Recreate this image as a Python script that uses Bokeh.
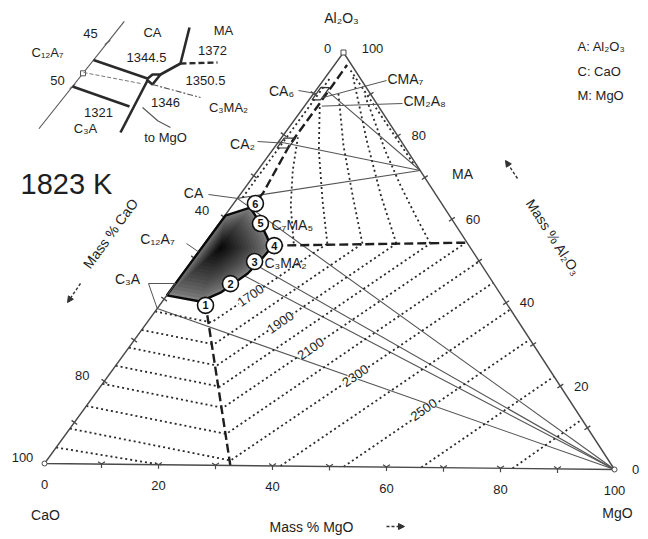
import numpy as np
from bokeh.plotting import figure
from bokeh.models import Range1d, ColumnDataSource, LabelSet, Arrow, NormalHead
from bokeh.core.properties import value
from bokeh.embed import file_html
from bokeh.resources import INLINE

FONT = "Liberation Sans"
INK = "#1e1e1e"
EDGE = "#4a4a4a"

# ---------------- data (all compositions in mass %) ----------------
axis_ticks = [10, 20, 30, 40, 50, 60, 70, 80, 90]
bottom_labels = [0, 20, 40, 60, 80, 100]      # Mass % MgO
right_labels = [0, 20, 40, 60, 80]            # Mass % Al2O3
left_labels = [100, 80, 40]                   # Mass % CaO

# compounds (MgO, Al2O3)
cmp_names = ["C3A", "C12A7", "CA", "CA2", "CA6", "MA", "C3MA2", "CMA7", "MgO"]
cmp_mgo = [0.0, 0.0, 0.0, 0.0, 0.0, 28.3, 9.8, 2.3, 100.0]
cmp_al = [37.7, 51.5, 64.5, 78.3, 91.6, 71.7, 49.5, 90.5, 0.0]
tie_from = ["MgO", "MgO", "MgO", "MgO", "MA", "MA", "MA"]
tie_to = ["C3A", "C12A7", "C3MA2", "CA", "CA", "CA2", "CMA7"]

# liquid region at 1823 K (shaded)
liq_mgo = [0.0, 6.6, 9.0, 11.3, 11.9, 12.1, 10.2, 7.2, 4.6, 3.4, 0.1]
liq_al = [40.9, 39.5, 41.7, 46.4, 49.6, 52.5, 55.1, 58.5, 61.1, 62.3, 60.3]
liq_core = (3.3, 52.6)

# invariant points 1-6
inv_no = ["1", "2", "3", "4", "5", "6"]
inv_mgo = [8.0, 9.6, 11.0, 12.4, 7.2, 3.8]
inv_al = [38.6, 43.9, 49.3, 53.2, 58.5, 63.3]

# primary-field boundaries (dashed)
bnd_cao_mgo_m = [7.6, 32.6]
bnd_cao_mgo_a = [39.3, 0.0]
bnd_mgo_ma_m = [12.4, 45.6]
bnd_mgo_ma_a = [53.2, 54.4]
bnd_ca_sp_m = [3.4, 3.8, 2.3, 2.3, 2.2]
bnd_ca_sp_a = [62.3, 65.8, 77.9, 87.9, 97.0]
# dotted boundaries near the Al2O3 corner
dot_left_m = [0.8, 0.9]
dot_left_a = [64.7, 93.9]
dot_right_m = [3.5, 26.7]
dot_right_a = [95.7, 72.9]
# peritectic boxes (MgO range, Al2O3 range)
box_ca2 = ([0.5, 2.5], [76.8, 79.2])
box_ca6 = ([0.5, 2.0], [88.5, 91.5])

# isotherms (deg C)
iso_temps = [1700, 1800, 1900, 2000, 2100, 2200, 2300, 2400, 2500, 2600, 2700]
cao_start_al = [37.0, 32.5, 28.2, 23.8, 19.4, 14.0, 8.5]          # on CaO-Al2O3 side
bnd_pt_mgo = [11.2, 14.4, 17.6, 20.8, 24.0, 27.9, 32.0]           # on CaO/MgO boundary
bnd_pt_al = [34.5, 29.2, 24.1, 19.0, 13.9, 7.6, 1.2]
base_start_mgo = [41.4, 52.5, 66.1, 82.1]                          # on CaO-MgO side
mgo_end_mgo = [21.4, 27.5, 33.4, 39.3, 45.3, 50.1, 55.2, 61.6, 68.8, 77.7, 88.0]
mgo_end_al = [53.8, 53.9, 54.0, 54.1, 54.2, 49.9, 44.8, 38.4, 31.2, 22.3, 12.0]
cao2400_m = [0.0, 20.4]
cao2400_a = [3.9, 0.0]
# spinel field isotherms
sp_mgo = {
    1600: [15.5, 10.2, 6.1, 2.8],
    1700: [21.4, 15.1, 8.1, 2.7],
    1800: [27.5, 19.7, 11.8, 4.3],
    1900: [33.4, 24.6, 15.2, 4.5],
    2000: [39.3, 33.2, 26.8, 19.7, 13.0, 8.6],
}
sp_al = {
    1600: [53.8, 62.9, 71.4, 79.4],
    1700: [53.8, 64.2, 76.3, 86.9],
    1800: [53.9, 65.5, 77.5, 90.1],
    1900: [54.0, 65.6, 78.8, 94.5],
    2000: [54.1, 60.8, 68.0, 76.4, 84.9, 90.4],
}
iso_lab_t = ["1700", "1900", "2100", "2300", "2500"]
iso_lab_mgo = [14.6, 23.2, 31.8, 43.0, 59.2]
iso_lab_al = [41.1, 34.7, 28.4, 22.0, 14.0]

# inset (CaO, MgO near C12A7)
in_edge_c = [54.8, 42.6]
in_edge_m = [0.0, 0.0]
in_ticks_c = [45.0, 50.0]
in_c12a7 = (48.5, 0.0)
in_thick = [
    ([47.0, 46.95], [0.0, 9.41]),
    ([50.0, 50.0], [0.0, 10.0]),
    ([52.59, 47.13], [11.6, 9.63]),
    ([47.07, 46.44, 46.19, 47.33, 47.07], [9.39, 9.66, 10.76, 10.75, 9.39]),
    ([46.19, 44.59, 41.11], [10.76, 12.3, 9.61]),
]
in_dashed_thick = ([44.59, 43.35], [12.3, 17.27])
in_thin = [([49.68, 50.4, 50.59], [11.89, 15.5, 17.91])]
in_dashdot = ([47.33, 46.99], [10.75, 18.76])
in_thin_dashed = ([48.41, 47.61], [0.0, 9.0])

# ---------------- geometry helpers (layout) ----------------
VC = (44.0, 463.0)
VM = (614.0, 469.0)
VA = (343.0, 52.0)


def tern(mgo, al):
    mgo, al = np.broadcast_arrays(np.atleast_1d(np.asarray(mgo, float)),
                                  np.atleast_1d(np.asarray(al, float)))
    cao = 100.0 - mgo - al
    x = (cao * VC[0] + mgo * VM[0] + al * VA[0]) / 100.0
    y = (cao * VC[1] + mgo * VM[1] + al * VA[1]) / 100.0
    return x.tolist(), (-y).tolist()


def inset(cao, mgo):
    cao, mgo = np.broadcast_arrays(np.atleast_1d(np.asarray(cao, float)),
                                   np.atleast_1d(np.asarray(mgo, float)))
    a = 50.0 - cao
    x = 72.0 + a * 7.0 + mgo * 5.7
    y = 86.0 - a * 8.8 + mgo * 2.0
    return x.tolist(), (-y).tolist()


def cmp(name):
    i = cmp_names.index(name)
    return cmp_mgo[i], cmp_al[i]


p = figure(width=644, height=535, x_range=Range1d(0, 644), y_range=Range1d(-535, 0),
           x_axis_type=None, y_axis_type=None, output_backend="svg",
           toolbar_location=None, min_border=0, outline_line_color=None,
           background_fill_color="white", border_fill_color="white")
p.grid.visible = False


def put(items, size, align="center", baseline="middle", angle=0.0, style="normal", color=INK):
    p.text(x=[i[0] for i in items], y=[-i[1] for i in items], text=[i[2] for i in items],
           text_font=value(FONT), text_font_size=value(f"{size}px"), text_color=color,
           text_align=align, text_baseline=baseline, angle=angle, text_font_style=style)


DOT = dict(line_color="#2a2a2a", line_width=1.8, line_dash="2 3")
DASH = dict(line_color="#1e1e1e", line_width=2.4, line_dash="9 4")

# ---------- tie lines ----------
for a, b in zip(tie_from, tie_to):
    m1, a1 = cmp(a)
    m2, a2 = cmp(b)
    xs, ys = tern([m1, m2], [a1, a2])
    p.line(xs, ys, line_color="#555555", line_width=1.1)

# ---------- isotherms ----------
for i, T in enumerate(iso_temps):
    if i < 7:
        mm = [0.0, bnd_pt_mgo[i], mgo_end_mgo[i]]
        aa = [cao_start_al[i], bnd_pt_al[i], mgo_end_al[i]]
    else:
        mm = [base_start_mgo[i - 7], mgo_end_mgo[i]]
        aa = [0.0, mgo_end_al[i]]
    xs, ys = tern(mm, aa)
    p.line(xs, ys, **DOT)
xs, ys = tern(cao2400_m, cao2400_a)
p.line(xs, ys, **DOT)
for T in sp_mgo:
    xs, ys = tern(sp_mgo[T], sp_al[T])
    p.line(xs, ys, **DOT)
for mm, aa in [(dot_left_m, dot_left_a), (dot_right_m, dot_right_a)]:
    xs, ys = tern(mm, aa)
    p.line(xs, ys, **DOT)

# ---------- boundaries ----------
for mm, aa in [(bnd_cao_mgo_m, bnd_cao_mgo_a), (bnd_mgo_ma_m, bnd_mgo_ma_a), (bnd_ca_sp_m, bnd_ca_sp_a)]:
    xs, ys = tern(mm, aa)
    p.line(xs, ys, **DASH)
for (mr, ar) in [box_ca2, box_ca6]:
    xs, ys = tern([mr[0], mr[1], mr[1], mr[0], mr[0]], [ar[0], ar[0], ar[1], ar[1], ar[0]])
    p.line(xs, ys, line_color="#333333", line_width=1.2)

# ---------- triangle edges & ticks ----------
xs, ys = tern([0, 100, 0, 0], [0, 0, 100, 0])
p.line(xs, ys, line_color=EDGE, line_width=1.4)
tx, ty = tern(axis_ticks, 0)
p.scatter(tx, ty, marker="y", size=8, line_color=EDGE, line_width=1.2)
tx, ty = tern(0, axis_ticks)
p.scatter(tx, ty, marker="dash", size=7, angle=-0.63, line_color=EDGE, line_width=1.4)
tx, ty = tern([100 - t for t in axis_ticks], axis_ticks)
p.scatter(tx, ty, marker="dash", size=7, angle=0.58, line_color=EDGE, line_width=1.4)
vx, vy = tern([0, 100], [0, 0])
p.scatter(vx, vy, marker="circle", size=5, fill_color="white", line_color=EDGE)
ax_, ay_ = tern(0, 100)
p.scatter(ax_, ay_, marker="square", size=5, fill_color="white", line_color=EDGE)

# ---------- shaded liquid region ----------
cm, ca = liq_core
lm = np.array(liq_mgo)
la = np.array(liq_al)
scales = np.linspace(1.0, 0.05, 16)
for k, s in enumerate(scales):
    g = int(round(128 - 118 * (k / (len(scales) - 1)) ** 0.8))
    xs, ys = tern(cm + s * (lm - cm), ca + s * (la - ca))
    p.patch(xs, ys, fill_color=f"#{g:02x}{g:02x}{g:02x}", line_color=None)
xs, ys = tern(list(lm) + [lm[0]], list(la) + [la[0]])
p.line(xs, ys, line_color="#0a0a0a", line_width=2.4)

# ---------- invariant points ----------
ix, iy = tern(inv_mgo, inv_al)
p.scatter(ix, iy, marker="circle", size=16, fill_color="white", line_color="#111111", line_width=1.6)
p.text(x=ix, y=iy, text=inv_no, text_font=value(FONT), text_font_size=value("11px"),
       text_font_style="bold", text_align="center", text_baseline="middle", text_color="#111111")

# ---------- isotherm labels ----------
lx, ly = tern(iso_lab_mgo, iso_lab_al)
src = ColumnDataSource(dict(x=lx, y=ly, t=iso_lab_t))
p.add_layout(LabelSet(x="x", y="y", text="t", source=src, angle=0.6, text_align="center",
                      text_baseline="middle", text_font=value(FONT), text_font_size=value("13px"),
                      text_color=INK, background_fill_color="white"))

# ---------- axis labels ----------
bx, by = tern(bottom_labels, 0)
put([(x, -y + 21, str(v)) for x, y, v in zip(bx, by, bottom_labels)], 13)
rx, ry = tern([100 - v for v in right_labels], right_labels)
put([(x + 21, -y, str(v)) for x, y, v in zip(rx, ry, right_labels)], 13)
lx_, ly_ = tern(0, [100 - v for v in left_labels])
put([(x - 22, -y - 6, str(v)) for x, y, v in zip(lx_, ly_, left_labels)], 13)
put([(327, 48, "0"), (372, 48, "100")], 13)
put([(341, 17, "Al₂O₃")], 14)
put([(45, 514, "CaO"), (617, 512, "MgO")], 14)
put([(311, 526, "Mass % MgO")], 14)
put([(110, 233, "Mass % CaO")], 14, angle=0.942)
put([(553, 237, "Mass % Al₂O₃")], 14, angle=-0.994)
for (x0, y0, x1, y1) in [(386, 526, 404, 526), (80, 283, 67, 302), (517, 178, 505, 160)]:
    p.add_layout(Arrow(end=NormalHead(size=6, fill_color="#333333", line_color="#333333"),
                       x_start=x0, y_start=-y0, x_end=x1, y_end=-y1,
                       line_color="#333333", line_width=1.4, line_dash="3 2"))

# legend text
put([(577, 46, "A: Al₂O₃"), (577, 71, "C: CaO"), (577, 95, "M: MgO")], 13, align="left")
put([(20, 183, "1823 K")], 29, align="left")

# compound labels
put([(193, 192, "CA"), (157, 238, "C₁₂A₇"), (127, 278, "C₃A"),
     (242, 143, "CA₂"), (281, 90, "CA₆"), (462, 173, "MA")], 14)
put([(271, 224, "C₇MA₅"), (264, 262, "C₃MA₂"), (387, 78, "CMA₇"), (403, 100, "CM₂A₈")],
    14, align="left")
# leaders
cx, cy = tern(*cmp("CA"))
p.line([208, cx[0]], [-194, cy[0]], line_color="#555555", line_width=1)
cx, cy = tern(*cmp("C12A7"))
p.line([186, cx[0]], [-243, cy[0]], line_color="#555555", line_width=1)
cx, cy = tern(*cmp("C3A"))
p.line([148, 175, cx[0], 148], [-283, -283, cy[0], -283], line_color="#555555", line_width=1)
for (x0, y0, m, a) in [(257, 141, 0.5, 78.0), (298, 90, 0.5, 90.0), (386, 80, 2.0, 89.0), (402, 103, 3.0, 87.0)]:
    cx, cy = tern(m, a)
    p.line([x0, cx[0]], [-y0, cy[0]], line_color="#555555", line_width=1)

# ---------- inset ----------
ex, ey = inset(in_edge_c, in_edge_m)
p.line(ex, ey, line_color="#555555", line_width=1.1)
tx, ty = inset(in_ticks_c, [0, 0])
p.scatter(tx, ty, marker="dash", size=7, angle=0.66, line_color="#555555", line_width=1.2)
sx, sy = inset(*in_c12a7)
p.scatter(sx, sy, marker="square", size=5, fill_color="white", line_color="#555555")
for cc, mm in in_thick:
    xs, ys = inset(cc, mm)
    p.line(xs, ys, line_color="#2a2a2a", line_width=2.6)
xs, ys = inset(*in_dashed_thick)
p.line(xs, ys, line_color="#2a2a2a", line_width=2.4, line_dash="6 3")
for cc, mm in in_thin:
    xs, ys = inset(cc, mm)
    p.line(xs, ys, line_color="#555555", line_width=1.1)
xs, ys = inset(*in_dashdot)
p.line(xs, ys, line_color="#555555", line_width=1.1, line_dash="6 2 2 2")
xs, ys = inset(*in_thin_dashed)
p.line(xs, ys, line_color="#777777", line_width=1.0, line_dash="4 2")
put([(90, 33, "45"), (47, 52, "C₁₂A₇"), (57, 80, "50"), (152, 32, "CA"), (146, 57, "1344.5"),
     (223, 30, "MA"), (212, 50, "1372"), (205, 80, "1350.5"), (165, 102, "1346"),
     (228, 107, "C₃MA₂"), (98, 112, "1321"), (85, 128, "C₃A"), (165, 137, "to MgO")], 13)

open("out.html", "w").write(file_html(p, INLINE))
